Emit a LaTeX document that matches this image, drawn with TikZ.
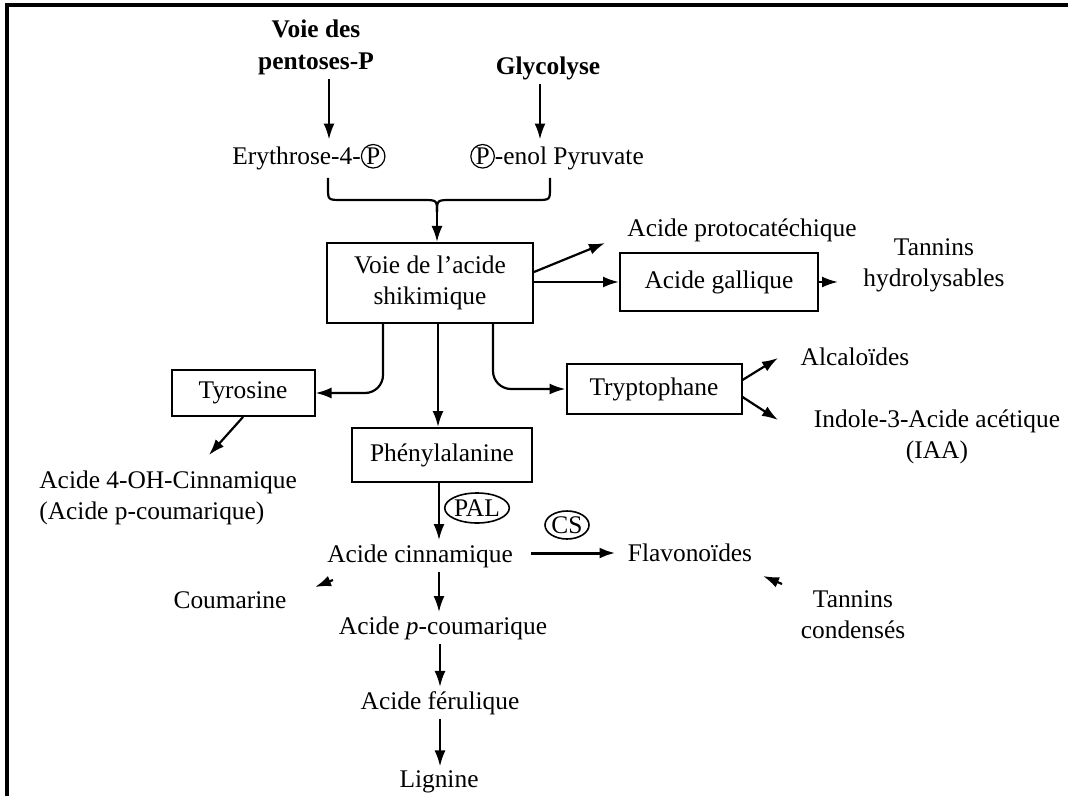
\documentclass[tikz,border=0pt]{standalone}
\usepackage{fontspec}
\setmainfont{Liberation Serif}
\usetikzlibrary{arrows.meta,shapes.geometric}
\newcommand{\taille}{\fontsize{12.7}{15.5}\selectfont}
\newcommand{\cP}{\tikz[baseline=(cp.base)]\node[draw,circle,inner sep=0.3pt,line width=0.6pt](cp){P};}

\begin{document}
\begin{tikzpicture}[x=0.5pt,y=0.5pt,font=\taille,
   txt/.style={inner sep=2pt,align=center},
   gras/.style={font=\fontsize{12.7}{16}\selectfont\bfseries},
   boite/.style={draw,line width=1pt,inner sep=2pt,align=center},
   enz/.style={draw,ellipse,line width=0.8pt,inner sep=0pt},
   fl/.style={line width=1.1pt,-{Latex[length=8pt,width=5.5pt]}},
   cadre/.style={line width=1.6pt}]
   \useasboundingbox (0,0) rectangle (1068,-796);
   \draw[cadre] (7,-796) -- (7,-5) -- (1068,-5);

   \node[txt,gras] (voie) at (316,-47) {Voie des\\pentoses-P};
   \node[txt,gras] (glyco) at (548,-68) {Glycolyse};
   \node[txt] (eryth) at (309,-157) {Erythrose-4-\cP};
   \node[txt] (pep) at (557,-157) {\cP-enol Pyruvate};
   \draw[fl] (voie.south -| 329,0) -- (eryth.north -| 329,0);
   \draw[fl] (glyco.south -| 540,0) -- (pep.north -| 540,0);

   \coordinate (acL) at (328,-178);
   \coordinate (acR) at (550,-178);
   \coordinate (acM) at (437,-212);
   \draw[line width=1.1pt] (acL) -- (328,-188) .. controls (328,-200) .. (342,-200) -- (422,-200) .. controls (437,-200) .. (acM);
   \draw[line width=1.1pt] (acR) -- (550,-188) .. controls (550,-200) .. (536,-200) -- (452,-200) .. controls (437,-200) .. (acM);

   \node[boite,minimum width=103pt,minimum height=40pt] (shik) at (430,-283) {Voie de l’acide\\shikimique};
   \draw[fl] (acM) -- (shik.north -| acM);

   \node[txt] (proto) at (742,-230) {Acide protocatéchique};
   \node[boite,minimum width=99pt,minimum height=28.5pt] (gall) at (719,-282) {Acide gallique};
   \node[txt] (thyd) at (934,-265) {Tannins\\hydrolysables};
   \coordinate (pr) at (605,-243);
   \coordinate (th) at (838,-282);
   \draw[fl] (shik.east |- 0,-272) -- (pr);
   \draw[fl] (shik.east |- gall.west) -- (gall.west);
   \draw[fl] (gall.east) -- (th);

   \node[boite,minimum width=71.5pt,minimum height=23pt] (tyr) at (243,-393) {Tyrosine};
   \node[boite,minimum width=87.5pt,minimum height=25pt] (trp) at (654,-389) {Tryptophane};
   \node[boite,minimum width=90pt,minimum height=27pt] (phe) at (442,-455) {Phénylalanine};
   \draw[fl,rounded corners=9pt] (shik.south -| 383,0) |- (tyr.east);
   \draw[fl,rounded corners=9pt] (shik.south -| 493,0) |- (trp.west);
   \draw[fl] (shik.south -| 438,0) -- (phe.north -| 438,0);

   \node[txt,align=left,anchor=west] (ohc) at (35,-498) {Acide 4-OH-Cinnamique\\(Acide p-coumarique)};
   \coordinate (ty) at (209,-455);
   \draw[fl] (tyr.south) -- (ty);

   \node[txt] (alca) at (855,-357) {Alcaloïdes};
   \node[txt] (iaa) at (937,-437) {Indole-3-Acide acétique\\(IAA)};
   \coordinate (al) at (778,-358);
   \coordinate (ia) at (778,-420);
   \draw[fl] (trp.east |- 0,-380) -- (al);
   \draw[fl] (trp.east |- 0,-397) -- (ia);

   \node[enz,minimum width=29pt,minimum height=15pt] (pal) at (477,-508) {PAL};
   \node[txt] (cinn) at (420,-556) {Acide cinnamique};
   \draw[fl] (phe.south -| 439,0) -- (cinn.north -| 439,0);
   \node[enz,minimum width=22pt,minimum height=14pt] (cs) at (567,-525) {CS};
   \node[txt] (flavo) at (690,-553) {Flavonoïdes};
   \draw[fl,line width=1.5pt,shorten <=7pt,shorten >=4pt] (cinn.east |- flavo.west) -- (flavo.west);

   \node[txt] (coum) at (230,-600) {Coumarine};
   \coordinate (cm1) at (333,-580);
   \coordinate (cm2) at (315,-587);
   \draw[fl] (cm1) -- (cm2);
   \node[txt] (tcond) at (853,-615) {Tannins\\condensés};
   \coordinate (tc1) at (782,-584);
   \coordinate (tc2) at (763,-576);
   \draw[fl] (tc1) -- (tc2);

   \node[txt] (pcoum) at (443,-628) {Acide \textit{p}-coumarique};
   \node[txt] (ferul) at (440,-703) {Acide férulique};
   \node[txt] (lign) at (439,-782) {Lignine};
   \draw[fl] (cinn.south -| 439,0) -- (pcoum.north -| 439,0);
   \draw[fl] (pcoum.south -| 440,0) -- (ferul.north -| 440,0);
   \draw[fl] (ferul.south -| 440,0) -- (lign.north -| 440,0);
\end{tikzpicture}
\end{document}
